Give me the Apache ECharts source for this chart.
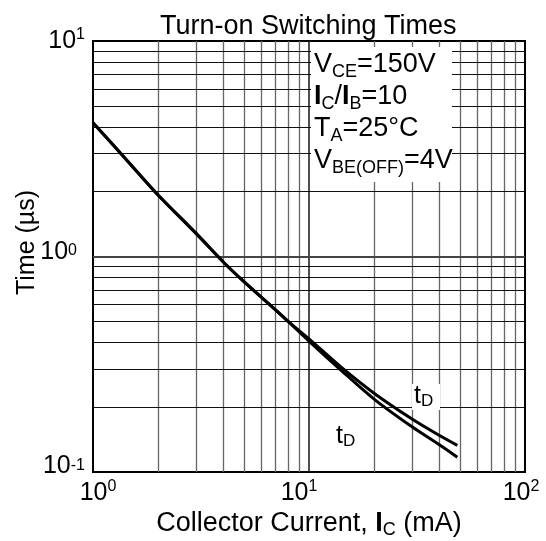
<!DOCTYPE html>
<html><head><meta charset="utf-8">
<script src="https://cdn.jsdelivr.net/npm/echarts@6/dist/echarts.min.js"></script>
<style>html,body{margin:0;padding:0;background:#fff}#c{width:546px;height:541px}</style>
</head><body><div id="c"></div>
<script>
// Collector current (mA)
const current = [1, 1.5, 2, 3, 4, 5, 7, 8, 10, 14, 20, 30, 40, 48.6];
// Time (µs) - upper curve
const tUpper = [4.18, 2.66, 1.93, 1.28, 0.946, 0.764, 0.565, 0.50, 0.415, 0.308, 0.232, 0.176, 0.148, 0.133];
// Time (µs) - lower curve
const tLower = [4.18, 2.66, 1.93, 1.28, 0.946, 0.764, 0.565, 0.50, 0.405, 0.298, 0.218, 0.162, 0.134, 0.117];
// grid lines
const xMinor = [2, 3, 4, 5, 6, 7, 8, 9, 20, 30, 40, 50, 60, 70, 80, 90];
const xDecadeInner = [10];
const yMinor = [0.2, 0.3, 0.4, 0.5, 0.6, 0.7, 0.8, 0.9, 2, 3, 4, 5, 6, 7, 8, 9];
const yDecadeInner = [1];
// tick labels
const xTickLabels = ['10^0', '10^1', '10^2'];
const yTickLabels = ['10^-1', '10^0', '10^1'];
const curveLabels = ['t|D', 't|D'];

const FONT = '"Liberation Sans", Arial, Helvetica, sans-serif';
const chart = echarts.init(document.getElementById('c'), null, {renderer: 'canvas'});

function pow(lbl, idx, pre) {
  const p = lbl.split('^');
  return '{' + pre + 'b' + idx + '|' + p[0] + '}{' + pre + 's' + idx + '|' + p[1] + '}';
}
const baseTick = {fontSize: 25, lineHeight: 28, color: '#000', fontFamily: FONT};
const supTick = {fontSize: 16, lineHeight: 16, verticalAlign: 'top', color: '#000', fontFamily: FONT};
const mk = (o, extra) => Object.assign({}, o, extra);

const xRich = {
  xb0: mk(baseTick, {padding: [0, 0, 0, 10]}), xs0: supTick,
  xb1: baseTick, xs1: mk(supTick, {padding: [0, 20, 0, 0]}),
  xb2: baseTick, xs2: mk(supTick, {padding: [0, 8, 0, 0]})
};
const yRich = {
  yb0: mk(baseTick, {padding: [0, 0, 12, 0]}), ys0: supTick,
  yb1: mk(baseTick, {padding: [0, 0, 8, 0]}), ys1: mk(supTick, {padding: [0, 8, 0, 0]}),
  yb2: baseTick, ys2: supTick
};

const option = {
  animation: false,
  backgroundColor: '#fff',
  title: {
    text: 'Turn-on Switching Times',
    left: 155, top: 8,
    textStyle: {fontSize: 27, fontWeight: 'normal', color: '#000', fontFamily: FONT}
  },
  grid: {left: 93, top: 41, right: 21, bottom: 69, containLabel: false, outerBoundsMode: 'none',
         show: true, borderColor: '#000', borderWidth: 2, backgroundColor: 'transparent'},
  xAxis: {
    type: 'log', logBase: 10, min: 1, max: 100,
    name: '{n|Collector Current, }{nb|I}{ns|C}{n| (mA)}',
    nameLocation: 'middle', nameGap: 37, nameMoveOverlap: false,
    nameTextStyle: {
      rich: {
        n: {fontSize: 27, color: '#000', fontFamily: FONT, lineHeight: 30},
        nb: {fontSize: 27, color: '#000', fontWeight: 'bold', fontFamily: FONT, lineHeight: 30},
        ns: {fontSize: 18, color: '#000', fontFamily: FONT, lineHeight: 18, verticalAlign: 'bottom'}
      }
    },
    axisLine: {show: true, lineStyle: {color: '#000', width: 2}},
    axisTick: {show: false},
    splitLine: {show: false},
    minorSplitLine: {show: false},
    axisLabel: {
      margin: 7,
      formatter: (v) => { const i = Math.round(Math.log10(v)); return pow(xTickLabels[i], i, 'x'); },
      rich: xRich
    }
  },
  yAxis: {
    type: 'log', logBase: 10, min: 0.1, max: 10,
    name: 'Time (µs)',
    nameLocation: 'middle', nameGap: 53, nameRotate: 90, nameMoveOverlap: false,
    nameTextStyle: {fontSize: 25, color: '#000', fontFamily: FONT, padding: [0, 0, 0, 28]},
    axisLine: {show: true, lineStyle: {color: '#000', width: 2}},
    axisTick: {show: false},
    splitLine: {show: false},
    axisLabel: {
      margin: 8,
      formatter: (v) => { const i = Math.round(Math.log10(v)) + 1; return pow(yTickLabels[i], i, 'y'); },
      rich: yRich
    }
  },
  series: [
    {
      type: 'line', data: [[1, 1]], showSymbol: false, symbol: 'none', lineStyle: {width: 0}, silent: true, z: 1,
      markLine: {
        silent: true, symbol: 'none', label: {show: false}, animation: false,
        lineStyle: {type: 'solid', color: '#666', width: 1.3},
        data: xMinor.map(v => ({xAxis: v}))
          .concat(xDecadeInner.map(v => ({xAxis: v, lineStyle: {color: '#222', width: 1.6, type: 'solid'}})))
          .concat(yMinor.map(v => ({yAxis: v, lineStyle: {color: '#111', width: 1, type: 'solid'}})))
          .concat(yDecadeInner.map(v => ({yAxis: v, lineStyle: {color: '#444', width: 2, type: 'solid'}})))
      }
    },
    {
      type: 'line', name: 'upper', data: current.map((c, i) => [c, tUpper[i]]),
      showSymbol: false, symbol: 'none', smooth: 0.3, z: 5,
      lineStyle: {color: '#000', width: 3, join: 'round', cap: 'butt'}
    },
    {
      type: 'line', name: 'lower', data: current.map((c, i) => [c, tLower[i]]),
      showSymbol: false, symbol: 'none', smooth: 0.3, z: 5,
      lineStyle: {color: '#000', width: 3, join: 'round', cap: 'butt'}
    }
  ]
};
chart.setOption(option);

function curveLabel(lbl) {
  const p = lbl.split('|');
  return '{t|' + p[0] + '}{d|' + p[1] + '}';
}
const curveRich = {
  t: {fontSize: 25, lineHeight: 28, fontFamily: FONT, fill: '#000'},
  d: {fontSize: 17, lineHeight: 17, verticalAlign: 'bottom', fontFamily: FONT, fill: '#000'}
};
const condRich = {
  m: {fontSize: 27, lineHeight: 32, fontFamily: FONT, fill: '#000'},
  b: {fontSize: 27, lineHeight: 32, fontFamily: FONT, fill: '#000', fontWeight: 'bold'},
  s: {fontSize: 18, lineHeight: 18, verticalAlign: 'bottom', fontFamily: FONT, fill: '#000'}
};
chart.setOption({
  graphic: [
    {type: 'rect', shape: {x: 311, y: 47, width: 141, height: 135}, style: {fill: '#fff'}, z: 50, silent: true},
    {type: 'text', x: 314, y: 49, z: 51, silent: true,
     style: {
       text: '{m|V}{s|CE}{m|=150V}\n{b|I}{s|C}{m|/}{b|I}{s|B}{m|=10}\n{m|T}{s|A}{m|=25°C}\n{m|V}{s|BE(OFF)}{m|=4V}',
       rich: condRich, fill: '#000'
     }},
    {type: 'rect', shape: {x: 412, y: 384, width: 28, height: 26}, style: {fill: '#fff'}, z: 50, silent: true},
    {type: 'text', x: 414, y: 382, z: 51, silent: true, style: {text: curveLabel(curveLabels[0]), rich: curveRich}},
    {type: 'text', x: 336, y: 422, z: 51, silent: true, style: {text: curveLabel(curveLabels[1]), rich: curveRich}}
  ]
});
</script>
</body></html>
